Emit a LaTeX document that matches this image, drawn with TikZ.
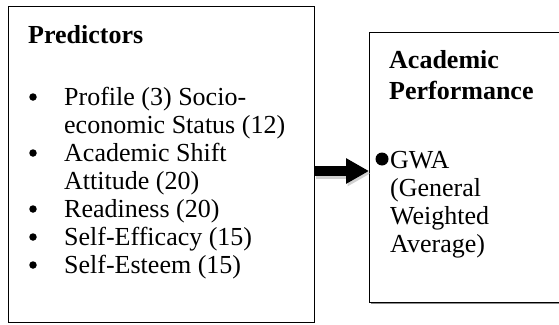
\documentclass[tikz,border=0pt]{standalone}
\usepackage{fontspec}
\setmainfont{Liberation Serif}
\usetikzlibrary{arrows.meta}
\begin{document}
\begin{tikzpicture}[x=1pt,y=-1pt,
  boxframe/.style={draw=black, line width=1.3pt, rectangle, inner sep=0pt, anchor=north west},
  txt/.style={anchor=base west, inner sep=0pt, font=\fontsize{26}{28}\selectfont},
  head/.style={anchor=base west, inner sep=0pt, font=\fontsize{26}{28}\selectfont\bfseries},
  bul/.style={circle, fill=black, inner sep=0pt, minimum size=7.5pt},
  bigbul/.style={circle, fill=black, inner sep=0pt, minimum size=13pt},
  link/.style={line width=10pt, -{Triangle[length=23pt,width=24pt]}}
]
\useasboundingbox (0,0) rectangle (559,324);
\clip (0,0) rectangle (559,324);
% boxes
\node[boxframe, minimum width=305.5pt, minimum height=316pt] (pred) at (8,6) {};
\draw[black!45, line width=1.2pt] ([xshift=2pt,yshift=-1.4pt]369,302) -- ([yshift=-1.4pt]569,302);
\node[boxframe, minimum width=200pt, minimum height=270pt] (perf) at (369,32) {};
% left box text
\node[head] (ptitle) at (28,43) {Predictors};
\node[bul] (b1) at (33,97) {};
\node[txt] (l1) at (64,105) {Profile (3) Socio-};
\node[txt] (l2) at (64,133) {economic Status (12)};
\node[bul] (b2) at (33,153) {};
\node[txt] (l3) at (64,161) {Academic Shift};
\node[txt] (l4) at (64,189) {Attitude (20)};
\node[bul] (b3) at (33,209) {};
\node[txt] (l5) at (64,217) {Readiness (20)};
\node[bul] (b4) at (33,237) {};
\node[txt] (l6) at (64,245) {Self-Efficacy (15)};
\node[bul] (b5) at (33,265) {};
\node[txt] (l7) at (64,273) {Self-Esteem (15)};
% right box text
\node[head] (at1) at (389,68) {Academic};
\node[head] (at2) at (389,99) {Performance};
\node[bigbul] (gb) at (382,159) {};
\node[txt] (g1) at (390,168) {GWA};
\node[txt] (g2) at (390,196) {(General};
\node[txt] (g3) at (390,224) {Weighted};
\node[txt] (g4) at (390,252) {Average)};
% arrow
\coordinate (ay) at (0,171);
\draw[link, black!30, opacity=0.6, transform canvas={shift={(1.5pt,-2.5pt)}}] (pred.east |- ay) -- (perf.west |- ay);
\draw[link] (pred.east |- ay) -- (perf.west |- ay);
\end{tikzpicture}
\end{document}
